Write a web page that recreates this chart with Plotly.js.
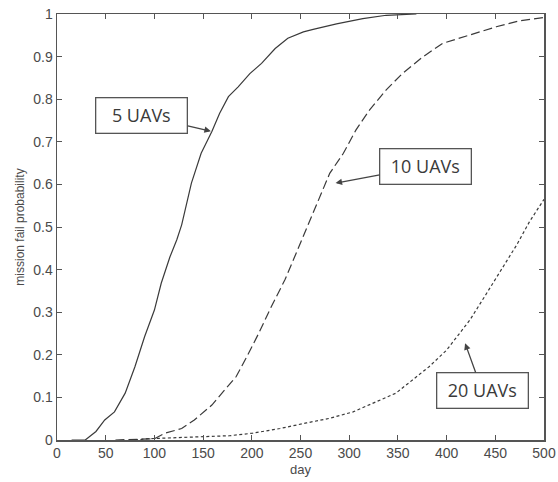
<!DOCTYPE html>
<html>
<head>
<meta charset="utf-8">
<script src="https://cdn.plot.ly/plotly-3.0.1.min.js"></script>
<style>html,body{margin:0;padding:0;background:#fff;}#chart{width:558px;height:482px;}</style>
</head>
<body>
<div id="chart"></div>
<script>
// 5 UAVs (solid)
const days5 = [15, 29, 40, 49, 59, 70, 80, 90, 100, 107, 116, 123, 128, 138, 148, 159, 167, 176, 186, 198, 210, 218, 224, 237, 253, 263, 287, 314, 338, 369];
const prob5 = [0, 0, 0.02, 0.047, 0.066, 0.11, 0.172, 0.243, 0.305, 0.368, 0.43, 0.47, 0.505, 0.603, 0.673, 0.724, 0.767, 0.806, 0.829, 0.86, 0.884, 0.905, 0.919, 0.943, 0.958, 0.964, 0.977, 0.989, 0.997, 1.0];
// 10 UAVs (dashed)
const days10 = [60, 100, 111, 128, 141, 159, 172, 184, 195, 207, 220, 234, 244, 253, 258, 270, 280, 294, 307, 321, 338, 355, 376, 396, 424, 451, 475, 492, 500];
const prob10 = [0, 0.003, 0.016, 0.027, 0.047, 0.082, 0.117, 0.149, 0.196, 0.25, 0.313, 0.376, 0.43, 0.48, 0.505, 0.571, 0.626, 0.673, 0.728, 0.775, 0.822, 0.861, 0.90, 0.931, 0.951, 0.97, 0.984, 0.99, 0.992];
// 20 UAVs (dotted)
const days20 = [80, 94, 152, 177, 201, 229, 256, 280, 304, 324, 348, 365, 382, 400, 412, 424, 441, 458, 472, 485, 500];
const prob20 = [0, 0.003, 0.008, 0.01, 0.016, 0.027, 0.04, 0.051, 0.066, 0.086, 0.11, 0.141, 0.172, 0.211, 0.246, 0.282, 0.344, 0.407, 0.458, 0.512, 0.565];

const labels = ["5 UAVs", "10 UAVs", "20 UAVs"];
// arrow tip positions (data)
const tipDays = [158, 286, 419];
const tipProbs = [0.725, 0.603, 0.227];

const lineColor = "#3a3a3a";
const traces = [
  {x: days5, y: prob5, mode: "lines", line: {color: lineColor, width: 1.2}, name: labels[0]},
  {x: days10, y: prob10, mode: "lines", line: {color: lineColor, width: 1.2, dash: "9px,4px"}, name: labels[1]},
  {x: days20, y: prob20, mode: "lines", line: {color: lineColor, width: 1.2, dash: "3px,2.5px"}, name: labels[2]}
];

const offsets = [[-69, -16], [90, -17], [17, 47]];
const annFont = {family: "'Open Sans', Lato, sans-serif", size: 18, color: "#3a3a3a", weight: 400};
const annotations = labels.map((t, i) => ({
  x: tipDays[i], y: tipProbs[i], xref: "x", yref: "y",
  text: t, showarrow: true, ax: offsets[i][0], ay: offsets[i][1],
  arrowhead: 2, arrowsize: 1, arrowwidth: 1.3, arrowcolor: "#444",
  font: annFont, bgcolor: "#fff", bordercolor: "#555", borderwidth: 1.3,
  width: 88, height: 32, borderpad: 1
}));

const axisCommon = {
  showline: true, linecolor: "#555", linewidth: 1.5, mirror: "ticks",
  ticks: "inside", ticklen: 5, tickcolor: "#555", tickwidth: 1,
  showgrid: false, zeroline: false,
  tickfont: {family: "'Liberation Sans', Arial, sans-serif", size: 14, color: "#4a4a4a"}
};

const layout = {
  width: 558, height: 482,
  margin: {l: 57, r: 14, t: 14, b: 42},
  paper_bgcolor: "#fff", plot_bgcolor: "#fff",
  showlegend: false,
  xaxis: Object.assign({}, axisCommon, {
    range: [0, 500], tick0: 0, dtick: 50,
    title: {text: "day", font: {family: "'Liberation Sans', Arial, sans-serif", size: 13, color: "#4a4a4a"}, standoff: 4}
  }),
  yaxis: Object.assign({}, axisCommon, {
    range: [0, 1], tick0: 0, dtick: 0.1,
    title: {text: "mission fail probability", font: {family: "'Liberation Sans', Arial, sans-serif", size: 12, color: "#4a4a4a"}, standoff: 6}
  }),
  annotations: annotations
};

Plotly.newPlot("chart", traces, layout, {displayModeBar: false, staticPlot: true});
</script>
</body>
</html>
